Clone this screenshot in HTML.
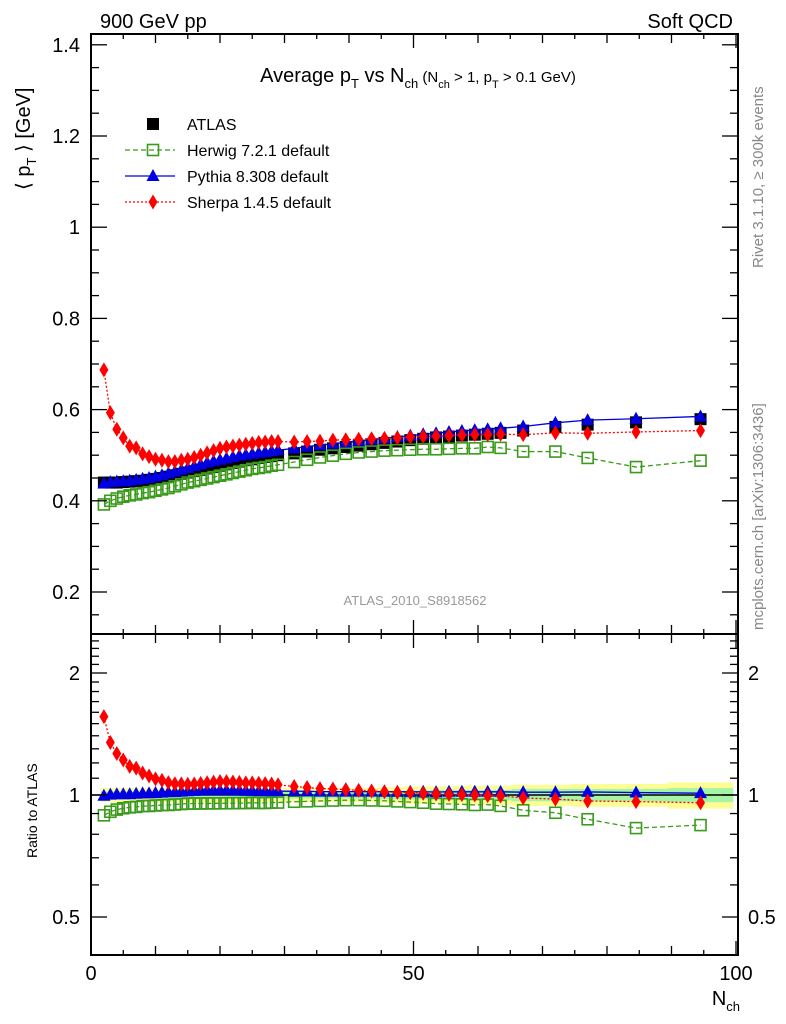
<!DOCTYPE html>
<html><head><meta charset="utf-8"><style>
html,body{margin:0;padding:0;background:#fff;}
svg{display:block;font-family:"Liberation Sans",sans-serif;}
</style></head><body>
<svg id="chart" width="786" height="1024" viewBox="0 0 786 1024" xmlns="http://www.w3.org/2000/svg">
<text x="100" y="28" font-size="20">900 GeV pp</text>
<text x="733" y="28" font-size="20" text-anchor="end">Soft QCD</text>
<text x="418" y="82" font-size="20" text-anchor="middle">Average p<tspan font-size="13" dy="6">T</tspan><tspan dy="-6"> vs N</tspan><tspan font-size="13" dy="6">ch</tspan><tspan font-size="15" dy="-6"> (N</tspan><tspan font-size="11" dy="6">ch</tspan><tspan font-size="15" dy="-6"> &gt; 1, p</tspan><tspan font-size="11" dy="6">T</tspan><tspan font-size="15" dy="-6"> &gt; 0.1 GeV)</tspan></text>
<text transform="translate(30,190) rotate(-90)" font-size="20">⟨ p<tspan font-size="13" dy="6">T</tspan><tspan dy="-6"> ⟩ [GeV]</tspan></text>
<text transform="translate(37,858) rotate(-90)" font-size="14">Ratio to ATLAS</text>
<text transform="translate(763,268) rotate(-90)" font-size="15" fill="#888">Rivet 3.1.10, ≥ 300k events</text>
<text transform="translate(763,630) rotate(-90)" font-size="15" fill="#888">mcplots.cern.ch [arXiv:1306:3436]</text>
<text x="415" y="605" font-size="13" fill="#999" text-anchor="middle">ATLAS_2010_S8918562</text>
<text x="740" y="1005" font-size="20" text-anchor="end">N<tspan font-size="13" dy="6">ch</tspan></text>
<g id="g"></g>
</svg>
<script>
const nch = [2,3,4,5,6,7,8,9,10,11,12,13,14,15,16,17,18,19,20,21,22,23,24,25,26,27,28,29,31.5,33.5,35.5,37.5,39.5,41.5,43.5,45.5,47.5,49.5,51.5,53.5,55.5,57.5,59.5,61.5,63.5,67,72,77,84.5,94.5];
const atlas = [0.440,0.440,0.440,0.441,0.442,0.443,0.444,0.446,0.448,0.450,0.453,0.456,0.459,0.462,0.465,0.468,0.471,0.474,0.477,0.480,0.483,0.486,0.489,0.491,0.494,0.496,0.498,0.500,0.504,0.508,0.512,0.515,0.518,0.521,0.524,0.527,0.530,0.533,0.536,0.539,0.541,0.543,0.545,0.547,0.549,0.554,0.562,0.567,0.572,0.579];
const herwig = [0.392,0.400,0.405,0.409,0.412,0.414,0.417,0.419,0.422,0.425,0.428,0.432,0.436,0.440,0.443,0.446,0.449,0.452,0.455,0.458,0.461,0.464,0.467,0.470,0.472,0.474,0.477,0.479,0.485,0.490,0.495,0.499,0.503,0.506,0.508,0.510,0.511,0.512,0.513,0.513,0.514,0.515,0.515,0.518,0.516,0.508,0.508,0.494,0.474,0.488];
const pythia = [0.438,0.441,0.442,0.443,0.444,0.446,0.448,0.450,0.453,0.456,0.460,0.464,0.468,0.472,0.476,0.480,0.484,0.487,0.490,0.493,0.496,0.499,0.501,0.503,0.505,0.507,0.509,0.511,0.515,0.519,0.522,0.525,0.528,0.531,0.534,0.537,0.540,0.543,0.546,0.548,0.551,0.553,0.555,0.557,0.559,0.563,0.571,0.577,0.580,0.585];
const sherpa = [0.687,0.593,0.557,0.538,0.520,0.516,0.503,0.497,0.491,0.489,0.486,0.486,0.489,0.491,0.495,0.500,0.505,0.510,0.515,0.518,0.520,0.522,0.524,0.526,0.528,0.529,0.530,0.530,0.529,0.530,0.531,0.533,0.534,0.535,0.536,0.537,0.538,0.540,0.541,0.542,0.543,0.544,0.545,0.545,0.546,0.545,0.549,0.548,0.551,0.554];
const relErr = [0.04,0.04,0.04,0.04,0.04,0.04,0.04,0.04,0.04,0.04,0.04,0.04,0.04,0.04,0.04,0.04,0.04,0.04,0.04,0.04,0.04,0.04,0.04,0.04,0.04,0.04,0.04,0.04,0.04,0.04,0.04,0.04,0.04,0.04,0.04,0.045,0.045,0.05,0.05,0.05,0.05,0.055,0.055,0.055,0.055,0.06,0.06,0.065,0.065,0.075];
const relStat = [0.02,0.02,0.02,0.02,0.02,0.02,0.02,0.02,0.02,0.02,0.02,0.02,0.02,0.02,0.02,0.02,0.02,0.02,0.02,0.02,0.02,0.02,0.02,0.02,0.02,0.02,0.02,0.02,0.02,0.02,0.02,0.02,0.02,0.02,0.02,0.025,0.025,0.025,0.025,0.03,0.03,0.03,0.03,0.03,0.03,0.035,0.035,0.035,0.035,0.04];
const mainTicks = ["0.2","0.4","0.6","0.8","1","1.2","1.4"];
const ratioTicks = ["0.5","1","2"];
const xTicks = ["0","50","100"];

const NS="http://www.w3.org/2000/svg";
const g=document.getElementById('g');
const L=91,R=738,T1=34,B1=634,B2=955;
const X=v=>L+(v)*6.45;
const Y1=v=>592-(v-0.2)*456;
const Y2=r=>795-Math.log2(r)*122;
function mk(tag,attrs,parent){const e=document.createElementNS(NS,tag);for(const k in attrs)e.setAttribute(k,attrs[k]);(parent||g).appendChild(e);return e;}

function band(rel,color,name){
  for(let i=0;i<nch.length;i++){
    const lo=i==0?nch[0]-0.5:(nch[i-1]+nch[i])/2, hi=i==nch.length-1?Math.min(nch[i]+5,100.6):(nch[i]+nch[i+1])/2;
    const r=mk('rect',{x:X(lo),y:Y2(1+rel[i]),width:X(hi)-X(lo)+0.5,height:Y2(1-rel[i])-Y2(1+rel[i]),fill:color});
    
    
  }
}
band(relErr,'#fdfd96','ratio-total-uncertainty-band');
band(relStat,'#a6f5a6','ratio-stat-uncertainty-band');
const one=mk('line',{x1:L,x2:R,y1:Y2(1),y2:Y2(1),stroke:'#000','stroke-width':1.5});



function marker(type,cx,cy,color,parent){
  if(type==='sq') return mk('rect',{x:cx-6,y:cy-6,width:12,height:12,fill:'#000'},parent);
  if(type==='osq') return mk('rect',{x:cx-5.5,y:cy-5.5,width:11,height:11,fill:'none',stroke:color,'stroke-width':1.6},parent);
  if(type==='tri') return mk('path',{d:`M${cx},${cy-7}L${cx+6.5},${cy+5}L${cx-6.5},${cy+5}Z`,fill:color},parent);
  return mk('path',{d:`M${cx},${cy-7.5}L${cx+4.5},${cy}L${cx},${cy+7.5}L${cx-4.5},${cy}Z`,fill:color},parent);
}
function series(vals,color,dash,type,name,Yf,ratio){
  const grp=mk('g',{});
  
  
  const pts=vals.map((v,i)=>[X(nch[i]),Yf(ratio?v/atlas[i]:v)]);
  if(color) mk('polyline',{points:pts.map(p=>p.join(',')).join(' '),fill:'none',stroke:color,'stroke-width':1.3,'stroke-dasharray':dash},grp);
  pts.forEach(p=>{const m=marker(type,p[0],p[1],color,grp);
    
    });
}
series(atlas,null,'','sq','atlas-data',Y1,false);
series(herwig,'#3a9a1a','5,3','osq','herwig-series',Y1,false);
series(pythia,'#0000e0','','tri','pythia-series',Y1,false);
series(sherpa,'#ff0000','2,2','dia','sherpa-series',Y1,false);
series(herwig,'#3a9a1a','5,3','osq','herwig-ratio',Y2,true);
series(pythia,'#0000e0','','tri','pythia-ratio',Y2,true);
series(sherpa,'#ff0000','2,2','dia','sherpa-ratio',Y2,true);

[[T1,B1,'main-frame'],[B1,B2,'ratio-frame']].forEach(f=>{
  const r=mk('rect',{x:L,y:f[0],width:R-L,height:f[1]-f[0],fill:'none',stroke:'#000','stroke-width':2});
  
  
});
for(let v=0;v<=100;v+=5){
  const len=v%50==0?14:(v%10==0?9:5);
  [[T1,1],[B1,1],[B1,-1],[B2,-1]].forEach(([y,s])=>mk('line',{x1:X(v),x2:X(v),y1:y,y2:y+s*len,stroke:'#000','stroke-width':1.3}));
}
xTicks.forEach(t=>{const e=mk('text',{x:X(+t),y:980,'font-size':20,'text-anchor':'middle'});e.textContent=t;
  
  });
for(let k=0;k<=26;k++){const v=0.15+k*0.05;const y=Y1(v);if(y<T1||y>B1)continue;
  const major=Math.abs((v*10)%2)<0.01||Math.abs((v*10)%2-2)<0.01;const len=major?16:8;
  mk('line',{x1:L,x2:L+len,y1:y,y2:y,stroke:'#000','stroke-width':1.3});
  mk('line',{x1:R,x2:R-len,y1:y,y2:y,stroke:'#000','stroke-width':1.3});}
mainTicks.forEach(t=>{const e=mk('text',{x:80,y:Y1(+t)+7,'font-size':20,'text-anchor':'end'});e.textContent=t;
  
  });
const rt=[0.4,0.5,0.6,0.7,0.8,0.9,1,1.1,1.2,1.3,1.4,1.5,1.6,1.7,1.8,1.9,2,2.1,2.2,2.3,2.4,2.5];
rt.forEach(v=>{const y=Y2(v);if(y<B1||y>B2)return;const major=[0.5,1,2].includes(v);const len=major?16:8;
  mk('line',{x1:L,x2:L+len,y1:y,y2:y,stroke:'#000','stroke-width':1.3});
  mk('line',{x1:R,x2:R-len,y1:y,y2:y,stroke:'#000','stroke-width':1.3});});
ratioTicks.forEach(t=>{
  const e=mk('text',{x:80,y:Y2(+t)+7,'font-size':20,'text-anchor':'end'});e.textContent=t;
  
  
  const e2=mk('text',{x:748,y:Y2(+t)+7,'font-size':20});e2.textContent=t;
  
  });
const leg=[['ATLAS',null,'','sq'],['Herwig 7.2.1 default','#3a9a1a','5,3','osq'],['Pythia 8.308 default','#0000e0','','tri'],['Sherpa 1.4.5 default','#ff0000','2,2','dia']];
leg.forEach((l,i)=>{const y=124+i*26;const lg=mk('g',{});
  
  
  if(l[1])mk('line',{x1:125,x2:175,y1:y,y2:y,stroke:l[1],'stroke-width':1.3,'stroke-dasharray':l[2]},lg);
  marker(l[3],153,y,l[1],lg);
  const t=mk('text',{x:187,y:y+6,'font-size':16},lg);t.textContent=l[0];});
</script>
</body></html>
